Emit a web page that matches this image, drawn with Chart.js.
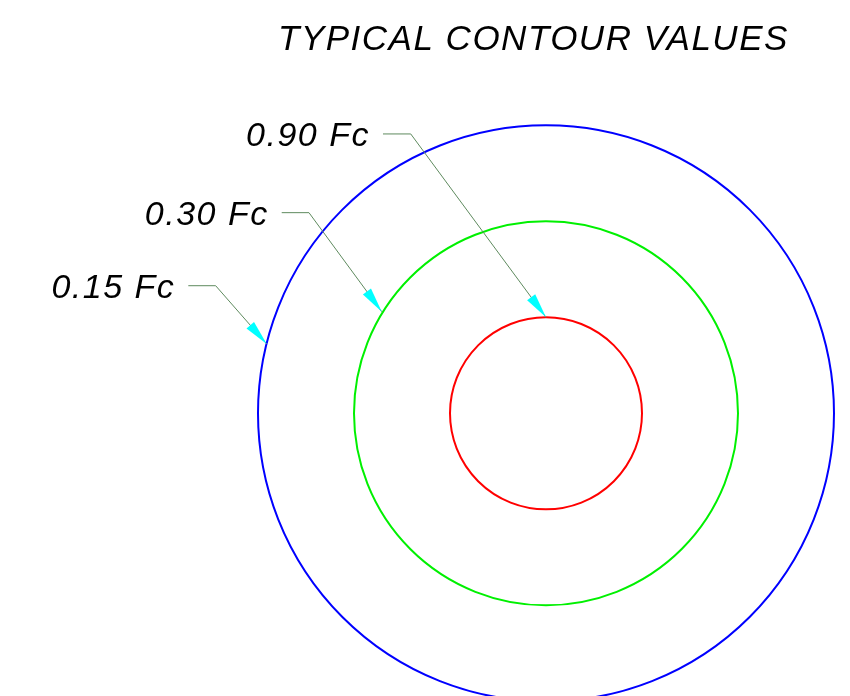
<!DOCTYPE html>
<html>
<head>
<meta charset="utf-8">
<script src="https://cdn.jsdelivr.net/npm/chart.js@4/dist/chart.umd.min.js"></script>
<style>
  html, body { margin: 0; padding: 0; background: #ffffff; }
  #wrap { width: 850px; height: 696px; }
</style>
</head>
<body>
<div id="wrap"><canvas id="c" width="850" height="696"></canvas></div>
<script>
// ---- data (in diagram units, centre of contours at 0,0) ----
const titleText = 'TYPICAL CONTOUR VALUES';
const contourLabels = ['0.90 Fc', '0.30 Fc', '0.15 Fc'];
const contourRadii = [1, 2, 3];               // red, green, blue contour radii
const leaderX = [[-1.698, -1.409, 0.000], [-2.753, -2.469, -1.711], [-3.726, -3.441, -2.909]];
const leaderY = [[ 2.910,  2.910, 1.000], [ 2.090,  2.090,  1.058], [ 1.329,  1.329,  0.722]];
const xRange = [-5.6875, 3.1667];
const yRange = [-2.9448, 4.3052];

// ---- styles ----
const contourColors = ['#ff0000', '#00f000', '#0000ff'];
const leaderColor = '#5e8a5e';
const arrowColor = '#00ffff';
const fontFamily = '"Liberation Sans", Arial, sans-serif';

const leaderDatasets = contourLabels.map((lab, i) => ({
  label: lab,
  data: leaderX[i].map((x, j) => ({ x: x, y: leaderY[i][j] })),
  showLine: true,
  borderColor: leaderColor,
  borderWidth: 1,
  pointRadius: 0,
  fill: false,
  tension: 0
}));

const contourPlugin = {
  id: 'contours',
  beforeDatasetsDraw(chart) {
    const { ctx, scales: { x, y } } = chart;
    const cx = x.getPixelForValue(0), cy = y.getPixelForValue(0);
    ctx.save();
    contourRadii.forEach((r, i) => {
      const rp = x.getPixelForValue(r) - cx;
      ctx.beginPath();
      ctx.arc(cx, cy, rp, 0, Math.PI * 2);
      ctx.strokeStyle = contourColors[i];
      ctx.lineWidth = 2;
      ctx.stroke();
    });
    ctx.restore();
  },
  afterDatasetsDraw(chart) {
    const { ctx } = chart;
    ctx.save();
    chart.data.datasets.forEach((ds, i) => {
      const pts = chart.getDatasetMeta(i).data;
      const a = pts[pts.length - 2], b = pts[pts.length - 1];
      const dx = b.x - a.x, dy = b.y - a.y;
      const len = Math.hypot(dx, dy);
      const ux = dx / len, uy = dy / len;
      const L = 25, W = 5;
      const bx = b.x - ux * L, by = b.y - uy * L;
      ctx.beginPath();
      ctx.moveTo(b.x, b.y);
      ctx.lineTo(bx - uy * W, by + ux * W);
      ctx.lineTo(bx + uy * W, by - ux * W);
      ctx.closePath();
      ctx.fillStyle = arrowColor;
      ctx.fill();
      // label text
      const s = pts[0];
      ctx.font = 'italic 34px ' + fontFamily;
      ctx.letterSpacing = '1.5px';
      ctx.fillStyle = '#000000';
      ctx.textAlign = 'right';
      ctx.textBaseline = 'alphabetic';
      ctx.fillText(ds.label, s.x - 13, s.y + 12);
    });
    // title
    ctx.font = 'italic 35px ' + fontFamily;
    ctx.letterSpacing = '1.5px';
    ctx.textAlign = 'left';
    ctx.textBaseline = 'alphabetic';
    ctx.fillStyle = '#000000';
    ctx.fillText(titleText, 278, 50);
    ctx.restore();
  }
};

new Chart(document.getElementById('c'), {
  type: 'scatter',
  data: { datasets: leaderDatasets },
  options: {
    responsive: false,
    animation: false,
    devicePixelRatio: 1,
    layout: { padding: 0 },
    plugins: { legend: { display: false }, tooltip: { enabled: false }, title: { display: false } },
    scales: {
      x: { type: 'linear', min: xRange[0], max: xRange[1], display: false },
      y: { type: 'linear', min: yRange[0], max: yRange[1], display: false }
    }
  },
  plugins: [contourPlugin]
});
</script>
</body>
</html>
